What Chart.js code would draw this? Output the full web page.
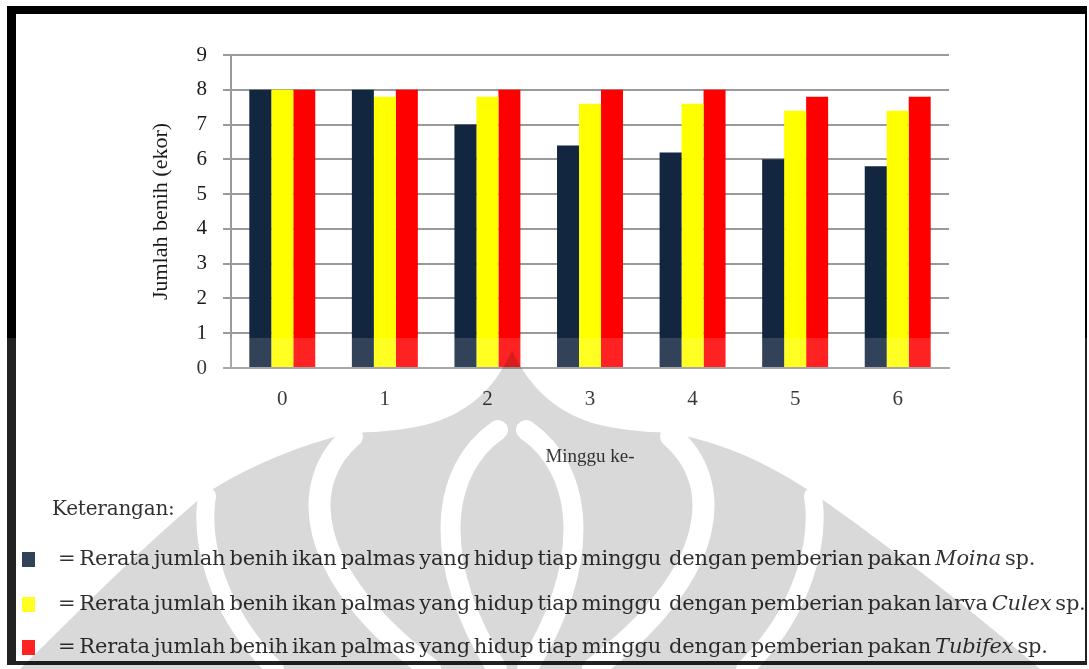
<!DOCTYPE html>
<html>
<head>
<meta charset="utf-8">
<script src="https://cdn.jsdelivr.net/npm/chart.js@4.4.1/dist/chart.umd.min.js"></script>
<style>
  html, body { margin: 0; padding: 0; background: #fff; }
  #wrap { position: relative; width: 1089px; height: 669px; overflow: hidden; }
  #frame { position: absolute; left: 7px; top: 6px; width: 1080px; height: 659px;
           border-style: solid; border-color: #000; border-width: 8px 2px 4px 9px; box-sizing: border-box; }
  #c { position: absolute; left: 0; top: 0; }
  .legend { position: absolute; font-family: 'DejaVu Serif', serif; font-size: 21px; color: #111;
            white-space: pre; letter-spacing: -0.2px; word-spacing: -2.5px; }
  .sw { position: absolute; width: 13px; height: 15px; }
  #mark { position: absolute; left: 0; top: 0; pointer-events: none; }
</style>
</head>
<body>
<div id="wrap">
  <canvas id="c" width="1089" height="669"></canvas>
  <div class="legend" style="left:52px; top:496px; font-size:20px;">Keterangan:</div>
  <div id="rows"></div>
  <div id="frame"></div>
  <svg id="mark" width="1089" height="669">
    <defs>
      <mask id="m">
        <path fill="#fff" d="M512,350 C530,390 560,415 600,425 C630,432 655,432 673,433 C730,445 770,465 813,493 C880,540 960,600 1040,669 L20,669 C90,600 150,540 207,493 C250,465 300,445 350,433 C370,432 395,432 425,425 C465,415 495,390 512,350 Z"/>
        <g fill="none" stroke="#000" stroke-linecap="round">
          <path stroke-width="20" d="M498,430 C440,470 430,560 497,669"/>
          <path stroke-width="20" d="M526,430 C584,470 594,560 527,669"/>
          <path stroke-width="22" d="M352,436 C300,480 300,570 430,669"/>
          <path stroke-width="22" d="M671,436 C723,480 723,570 593,669"/>
          <path stroke-width="18" d="M207,496 C200,540 215,610 275,669"/>
          <path stroke-width="18" d="M813,496 C820,540 805,610 745,669"/>
        </g>
      </mask>
    </defs>
    <rect x="0" y="338" width="1089" height="331" fill="#fff" fill-opacity="0.135"/>
    <rect x="0" y="330" width="1089" height="339" fill="#000" fill-opacity="0.15" mask="url(#m)"/>
  </svg>
</div>
<script>
// data
const weeks = ['0', '1', '2', '3', '4', '5', '6'];
const moina = [8, 8, 7, 6.4, 6.2, 6.0, 5.8];
const culex = [8, 7.8, 7.8, 7.6, 7.6, 7.4, 7.4];
const tubifex = [8, 8, 8, 8, 8, 7.8, 7.8];
const seriesNames = ['Moina', 'Culex', 'Tubifex'];
const seriesColors = ['#13263f', '#ffff00', '#ff0000'];
const yMin = 0, yMax = 9, yStep = 1;

const axisGray = '#9a9a9a';

Chart.defaults.font.family = "'Liberation Serif', serif";
Chart.defaults.color = '#1a1a1a';

new Chart(document.getElementById('c'), {
    type: 'bar',
    data: {
        labels: weeks,
        datasets: [moina, culex, tubifex].map((d, i) => ({
            label: seriesNames[i],
            data: d,
            backgroundColor: seriesColors[i],
            borderWidth: 0,
            barPercentage: 1.0,
            categoryPercentage: 0.643
        }))
    },
    options: {
        responsive: false,
        animation: false,
        layout: { padding: { left: 140, right: 140, top: 55, bottom: 201 } },
        plugins: {
            legend: { display: false },
            tooltip: { enabled: false }
        },
        scales: {
            x: {
                afterFit: s => { s.height = 100; },
                grid: { display: false },
                border: { display: true, color: axisGray, width: 2 },
                ticks: { font: { size: 21 }, padding: 11 },
                title: {
                    display: true,
                    text: 'Minggu ke-',
                    font: { size: 19 },
                    padding: { top: 0, bottom: 0 }
                }
            },
            y: {
                min: yMin,
                max: yMax,
                afterFit: s => { s.width = 91; },
                grid: { color: axisGray, lineWidth: 2, tickLength: 8 },
                border: { display: true, color: axisGray, width: 2 },
                ticks: { stepSize: yStep, font: { size: 21 }, padding: 16 },
                title: {
                    display: true,
                    text: 'Jumlah benih (ekor)',
                    font: { size: 22 },
                    padding: { top: 8, bottom: 0 }
                }
            }
        }
    }
});

// legend rows under the chart
const legendText = [
    ['= Rerata jumlah benih ikan palmas yang hidup tiap minggu  dengan pemberian pakan ', 'Moina', ' sp.'],
    ['= Rerata jumlah benih ikan palmas yang hidup tiap minggu  dengan pemberian pakan larva ', 'Culex', ' sp.'],
    ['= Rerata jumlah benih ikan palmas yang hidup tiap minggu  dengan pemberian pakan ', 'Tubifex', ' sp.']
];
const rowY = [560, 605, 648];
const rows = document.getElementById('rows');
legendText.forEach((t, i) => {
    const sw = document.createElement('div');
    sw.className = 'sw';
    sw.style.left = '22px';
    sw.style.top = (rowY[i] - 8) + 'px';
    sw.style.background = seriesColors[i];
    rows.appendChild(sw);
    const tx = document.createElement('div');
    tx.className = 'legend';
    tx.style.left = '58px';
    tx.style.top = (rowY[i] - 14) + 'px';
    tx.innerHTML = t[0] + '<i>' + t[1] + '</i>' + t[2];
    rows.appendChild(tx);
});
</script>
</body>
</html>
